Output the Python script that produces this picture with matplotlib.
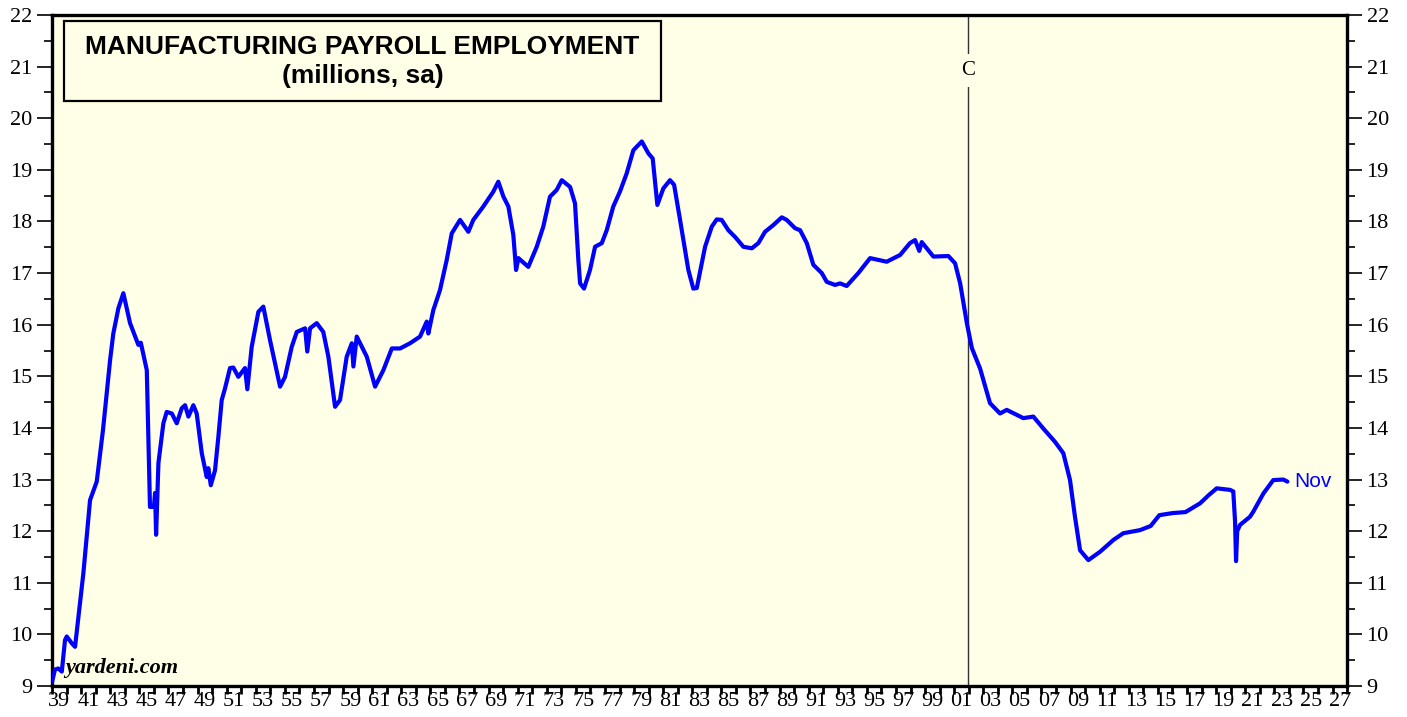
import matplotlib.pyplot as plt
from matplotlib.patches import Rectangle
from matplotlib.ticker import FixedLocator, NullFormatter

# manufacturing payroll employment, millions
years = [1939.0, 1939.2, 1939.43, 1939.67, 1939.89, 1940.01, 1940.35, 1940.58,
         1941.15, 1941.61, 1942.07, 1942.5, 1942.99, 1943.21, 1943.56, 1943.9,
         1944.36, 1944.93, 1945.1, 1945.51, 1945.73, 1946.0, 1946.08, 1946.15,
         1946.31, 1946.65, 1946.88, 1947.23, 1947.57, 1947.91, 1948.14, 1948.37,
         1948.71, 1948.94, 1949.29, 1949.63, 1949.74, 1949.91, 1950.2, 1950.43,
         1950.66, 1950.89, 1951.23, 1951.46, 1951.8, 1952.26, 1952.42, 1952.72,
         1953.18, 1953.52, 1953.98, 1954.67, 1955.01, 1955.47, 1955.82, 1956.39,
         1956.54, 1956.73, 1957.19, 1957.64, 1957.99, 1958.45, 1958.79, 1959.25,
         1959.6, 1959.71, 1959.94, 1960.63, 1961.2, 1961.77, 1962.35, 1962.92,
         1963.6, 1964.29, 1964.75, 1964.86, 1965.2, 1965.66, 1966.12, 1966.47,
         1967.04, 1967.61, 1967.95, 1968.64, 1969.33, 1969.67, 1970.02, 1970.36,
         1970.7, 1970.89, 1971.05, 1971.73, 1972.31, 1972.76, 1973.22, 1973.68,
         1974.03, 1974.6, 1974.94, 1975.17, 1975.29, 1975.56, 1975.97, 1976.32,
         1976.78, 1977.12, 1977.57, 1978.03, 1978.49, 1978.95, 1979.53, 1979.98,
         1980.28, 1980.6, 1981.01, 1981.47, 1981.75, 1982.16, 1982.73, 1983.07,
         1983.31, 1983.88, 1984.34, 1984.68, 1985.02, 1985.48, 1985.94, 1986.51,
         1987.09, 1987.54, 1988.0, 1988.57, 1989.15, 1989.49, 1990.06, 1990.41,
         1990.87, 1991.32, 1991.9, 1992.24, 1992.81, 1993.16, 1993.61, 1994.41,
         1995.22, 1996.36, 1997.28, 1997.96, 1998.31, 1998.6, 1998.77, 1999.57,
         2000.6, 2001.06, 2001.41, 2001.87, 2002.21, 2002.78, 2003.46, 2004.15,
         2004.61, 2005.75, 2006.44, 2007.12, 2007.93, 2008.5, 2008.96, 2009.3,
         2009.65, 2010.22, 2011.02, 2011.94, 2012.62, 2013.77, 2014.5, 2015.1,
         2016.0, 2016.9, 2017.9, 2018.5, 2019.04, 2019.96, 2020.18, 2020.3,
         2020.37, 2020.45, 2020.64, 2021.33, 2021.56, 2022.25, 2022.93, 2023.62,
         2023.9]
values = [9.08, 9.32, 9.34, 9.28, 9.89, 9.96, 9.83, 9.76,
          11.18, 12.6, 12.96, 13.96, 15.32, 15.83, 16.32, 16.61,
          16.03, 15.61, 15.65, 15.12, 12.47, 12.47, 12.74, 11.93,
          13.32, 14.09, 14.31, 14.28, 14.09, 14.38, 14.44, 14.22,
          14.44, 14.28, 13.51, 13.05, 13.22, 12.89, 13.18, 13.83,
          14.54, 14.77, 15.16, 15.17, 14.99, 15.16, 14.75, 15.57,
          16.25, 16.35, 15.7, 14.8, 14.99, 15.57, 15.86, 15.93,
          15.48, 15.93, 16.03, 15.86, 15.38, 14.41, 14.54, 15.38,
          15.64, 15.19, 15.77, 15.38, 14.8, 15.12, 15.54, 15.54,
          15.64, 15.77, 16.06, 15.83, 16.28, 16.67, 17.25, 17.77,
          18.03, 17.8, 18.03, 18.29, 18.58, 18.77, 18.48, 18.29,
          17.74, 17.06, 17.29, 17.12, 17.51, 17.9, 18.48, 18.61,
          18.8, 18.67, 18.35, 17.25, 16.8, 16.7, 17.06, 17.51,
          17.58, 17.83, 18.29, 18.58, 18.93, 19.38, 19.55, 19.32,
          19.22, 18.32, 18.64, 18.8, 18.71, 18.03, 17.06, 16.7,
          16.71, 17.51, 17.9, 18.04, 18.03, 17.83, 17.7, 17.51,
          17.48, 17.58, 17.8, 17.93, 18.08, 18.03, 17.87, 17.83,
          17.58, 17.16, 17.0, 16.83, 16.77, 16.8, 16.75, 17.0,
          17.29, 17.22, 17.35, 17.58, 17.64, 17.43, 17.6, 17.32,
          17.33, 17.19, 16.8, 16.03, 15.55, 15.15, 14.48, 14.28,
          14.35, 14.19, 14.22, 13.99, 13.73, 13.51, 12.99, 12.28,
          11.63, 11.44, 11.6, 11.83, 11.96, 12.02, 12.1, 12.31,
          12.35, 12.37, 12.54, 12.7, 12.83, 12.8, 12.77, 12.2,
          11.42, 12.0, 12.12, 12.28, 12.38, 12.73, 12.99, 13.0,
          12.96]

china_wto = 2001.95
label_years = list(range(1939, 2028, 2))
bg = '#fffee6'

fig = plt.figure(figsize=(14.07, 7.17), dpi=100)
ax = fig.add_axes([0.0370, 0.0432, 0.9204, 0.9359])
ax.set_facecolor(bg)

ax.plot(years, values, color='#0000ff', lw=3.0, solid_joinstyle='round',
        solid_capstyle='round', zorder=3)
ax.text(years[-1] + 0.5, values[-1], 'Nov', color='#0000ff', fontsize=15,
        family='Liberation Sans', va='center', ha='left')

# China joins WTO
ax.axvline(china_wto, color='#333333', lw=1, zorder=2)
ax.text(china_wto, 20.93, 'C', fontsize=15, family='Liberation Serif', ha='center',
        va='center', zorder=2.5, bbox=dict(facecolor=bg, edgecolor='none', pad=5))

ax.text(0.010, 0.019, 'yardeni.com', transform=ax.transAxes, fontsize=16,
        family='Liberation Serif', weight='bold', style='italic', zorder=4)

# title box
ax.add_patch(Rectangle((0.0093, 0.8718), 0.461, 0.1193, transform=ax.transAxes,
                       facecolor='none', edgecolor='black', lw=1.6, zorder=4))
ax.text(0.2398, 0.9523, 'MANUFACTURING PAYROLL EMPLOYMENT', transform=ax.transAxes,
        ha='center', va='center', fontsize=19, family='Liberation Sans', weight='bold')
ax.text(0.2398, 0.9091, '(millions, sa)', transform=ax.transAxes,
        ha='center', va='center', fontsize=19, family='Liberation Sans', weight='bold')

ax.set_xlim(1939, 2028)
ax.set_ylim(9, 22)

ax.xaxis.set_major_locator(FixedLocator(range(1939, 2029)))
ax.xaxis.set_major_formatter(NullFormatter())
ax.xaxis.set_minor_locator(FixedLocator([y + 0.5 for y in label_years]))
ax.set_xticklabels(['%02d' % (y % 100) for y in label_years], minor=True)
ax.tick_params(axis='x', which='major', direction='out', length=6, width=2)
ax.tick_params(axis='x', which='minor', length=0, pad=4, labelsize=16)

ax.set_yticks(range(9, 23))
ax.set_yticks([v + 0.5 for v in range(9, 22)], minor=True)
ax.tick_params(axis='y', which='both', direction='out', right=True, labelright=True,
               labelsize=16, width=1.2)
ax.tick_params(axis='y', which='major', length=11, pad=3)
ax.tick_params(axis='y', which='minor', length=6)

for lab in ax.get_xticklabels(minor=True) + ax.get_yticklabels():
    lab.set_family('Liberation Serif')

for sp in ax.spines.values():
    sp.set_linewidth(2.4)

fig.savefig('out.png', dpi=100)
